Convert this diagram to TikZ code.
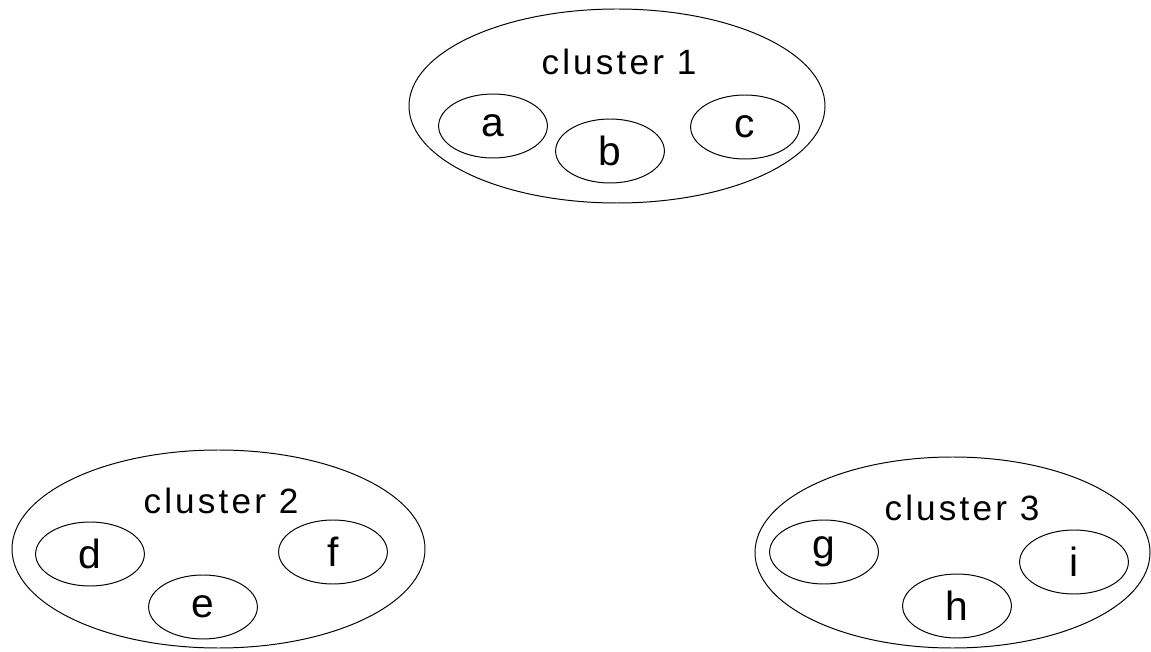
\documentclass[tikz,border=0pt]{standalone}
\usepackage{fontspec}
\setmainfont{Liberation Sans}
\usepackage{tikz}
\usetikzlibrary{shapes.geometric}

\tikzset{
    clusterbox/.style={draw=black, line width=0.7pt, ellipse, inner sep=0pt},
    itembox/.style={draw=black, line width=0.7pt, ellipse, inner sep=0pt,
        minimum width=2.72cm, minimum height=1.6cm, font=\fontsize{29}{30}\selectfont},
    clustertitle/.style={font=\fontsize{25}{26}\selectfont\addfontfeature{LetterSpace=9}}
}

\begin{document}
\begin{tikzpicture}
    \useasboundingbox (0,0) rectangle (28.775,16.275);

    % Cluster 1 (top)
    \node[clusterbox, minimum width=10.4cm, minimum height=4.85cm] (cl1) at (15.425,13.625) {};
    \node[clustertitle] (cl1title) at (15.475,14.725) {cluster 1};
    \foreach \n/\x/\y in {a/12.325/13.125, b/15.25/12.5, c/18.625/13.1} {
        \node[itembox] (\n) at (\x,\y) {\n};
    }

    % Cluster 2 (bottom left)
    \node[clusterbox, minimum width=10.325cm, minimum height=4.95cm] (cl2) at (5.4625,2.55) {};
    \node[clustertitle] (cl2title) at (5.525,3.75) {cluster 2};
    \foreach \n/\x/\y in {d/2.25/2.425, e/5.075/1.1, f/8.325/2.475} {
        \node[itembox] (\n) at (\x,\y) {\n};
    }

    % Cluster 3 (bottom right)
    \node[clusterbox, minimum width=9.875cm, minimum height=4.775cm] (cl3) at (23.8125,2.4625) {};
    \node[clustertitle] (cl3title) at (24.05,3.575) {cluster 3};
    \foreach \n/\x/\y in {g/20.6/2.475, h/23.925/1.125, i/26.85/2.225} {
        \node[itembox] (\n) at (\x,\y) {\n};
    }
\end{tikzpicture}
\end{document}
